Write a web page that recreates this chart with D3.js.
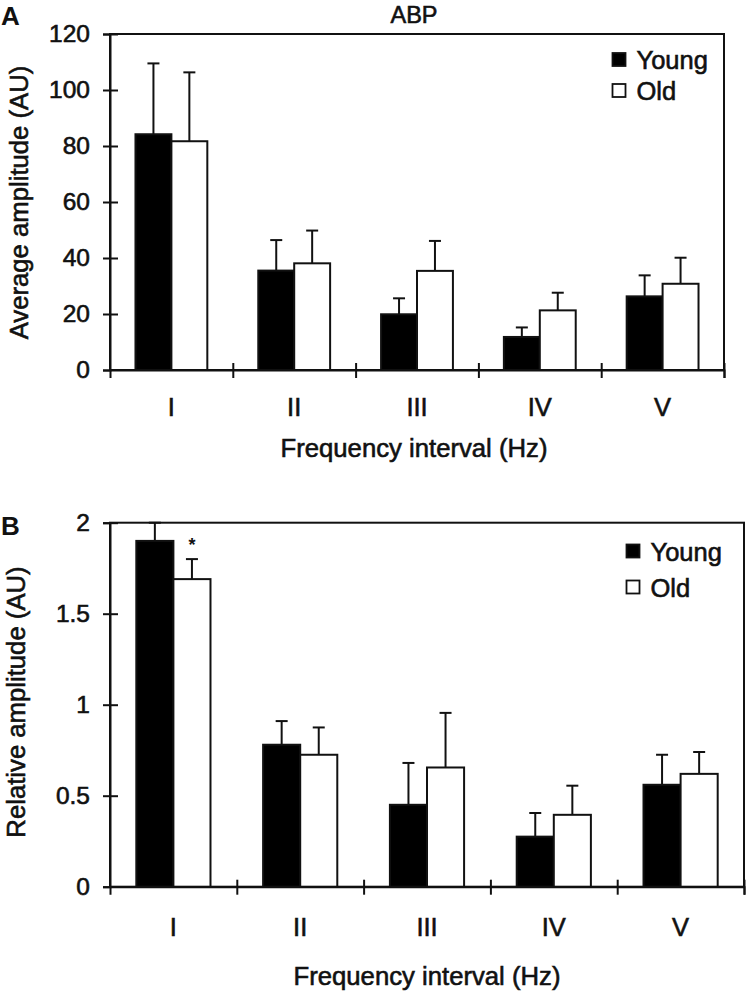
<!DOCTYPE html>
<html>
<head>
<meta charset="utf-8">
<script src="https://cdn.jsdelivr.net/npm/d3@7"></script>
<style>
  html, body { margin: 0; padding: 0; background: #fff; }
  svg { display: block; }
  text { font-family: "Liberation Sans", Arial, Helvetica, sans-serif; fill: #111; }
  text.heavy { stroke: #111; stroke-width: 0.6px; }
</style>
</head>
<body>
<svg id="chart" width="746" height="992"></svg>
<script>
// ---------- data ----------
const categories = ["I", "II", "III", "IV", "V"];
const seriesNames = ["Young", "Old"];
const seriesFill = ["#000000", "#ffffff"];

// Panel A: ABP average amplitude (AU), mean and upper SD
const abpYoung    = [84.2, 35.5, 19.9, 11.8, 26.3];
const abpYoungErr = [25.3, 10.9, 5.7, 3.4, 7.5];
const abpOld      = [81.7, 38.1, 35.4, 21.3, 30.8];
const abpOldErr   = [24.6, 11.7, 10.7, 6.3, 9.3];
const abpTicks    = [0, 20, 40, 60, 80, 100, 120];

// Panel B: relative amplitude (AU)
const relYoung    = [1.90, 0.78, 0.45, 0.275, 0.56];
const relYoungErr = [0.10, 0.13, 0.23, 0.13, 0.165];
const relOld      = [1.69, 0.725, 0.655, 0.395, 0.62];
const relOldErr   = [0.11, 0.15, 0.30, 0.16, 0.12];
const relTicks    = [0, 0.5, 1, 1.5, 2];
const relOldSig   = ["*", "", "", "", ""];

const svg = d3.select("#chart");
const FF = '"Liberation Sans", Arial, sans-serif';

function drawPanel(cfg) {
  const g = svg.append("g");
  const x0 = d3.scaleBand().domain(categories).range([cfg.left, cfg.right])
    .paddingInner(0.415).paddingOuter(0.2075);
  const x1 = d3.scaleBand().domain(seriesNames).range([0, x0.bandwidth()]);
  const y = d3.scaleLinear().domain([0, cfg.yMax]).range([cfg.bottom, cfg.top]);
  const idx = d3.scaleLinear().domain([0, categories.length]).range([cfg.left, cfg.right]);

  // frame (top & right)
  g.append("rect")
    .attr("x", cfg.left).attr("y", cfg.top)
    .attr("width", cfg.right - cfg.left).attr("height", cfg.bottom - cfg.top)
    .attr("fill", "none").attr("stroke", "#111").attr("stroke-width", 2);

  // bars
  const series = [
    { name: seriesNames[0], vals: cfg.young, errs: cfg.youngErr, fill: seriesFill[0] },
    { name: seriesNames[1], vals: cfg.old, errs: cfg.oldErr, fill: seriesFill[1] }
  ];
  series.forEach(s => {
    const rows = categories.map((c, i) => ({ c, v: s.vals[i], e: s.errs[i] }));
    const cx = d => x0(d.c) + x1(s.name) + x1.bandwidth() / 2;
    const sg = g.append("g");
    sg.selectAll("line.stem").data(rows).join("line").attr("class", "stem")
      .attr("x1", cx).attr("x2", cx)
      .attr("y1", d => y(d.v)).attr("y2", d => y(d.v + d.e))
      .attr("stroke", "#111").attr("stroke-width", 2);
    sg.selectAll("line.cap").data(rows).join("line").attr("class", "cap")
      .attr("x1", d => cx(d) - 6).attr("x2", d => cx(d) + 6)
      .attr("y1", d => y(d.v + d.e)).attr("y2", d => y(d.v + d.e))
      .attr("stroke", "#111").attr("stroke-width", 2);
    sg.selectAll("rect").data(rows).join("rect")
      .attr("x", d => x0(d.c) + x1(s.name))
      .attr("y", d => y(d.v))
      .attr("width", x1.bandwidth())
      .attr("height", d => y(0) - y(d.v))
      .attr("fill", s.fill).attr("stroke", "#111").attr("stroke-width", 2);
  });

  // significance marks
  if (cfg.oldSig) {
    g.selectAll("text.sig").data(categories.map((c, i) => ({ c, s: cfg.oldSig[i], v: cfg.old[i] + cfg.oldErr[i] })))
      .join("text").attr("class", "sig")
      .attr("x", d => x0(d.c) + x1("Old") + x1.bandwidth() / 2)
      .attr("y", d => y(d.v) - 8)
      .attr("text-anchor", "middle").attr("font-size", 18).attr("font-weight", "bold")
      .text(d => d.s);
  }

  // y axis with cross ticks
  const yAxis = g.append("g").attr("transform", `translate(${cfg.left},0)`)
    .call(d3.axisLeft(y).tickValues(cfg.ticks).tickSize(7).tickPadding(13)
      .tickFormat(d => String(d)));
  yAxis.select(".domain").attr("stroke", "#111").attr("stroke-width", 2);
  yAxis.selectAll(".tick line").attr("x1", d => d === 0 ? 0 : 8).attr("x2", -7)
    .attr("stroke", "#111").attr("stroke-width", 2);
  yAxis.selectAll(".tick text").attr("class", "heavy").attr("font-size", 24.5).attr("fill", "#111")
    .style("font-family", FF);

  // x axis: boundary ticks
  const xb = g.append("g").attr("transform", `translate(0,${cfg.bottom})`)
    .call(d3.axisBottom(idx).tickValues(d3.range(1, categories.length + 1)).tickSize(8).tickFormat(""));
  xb.select(".domain").attr("stroke", "#111").attr("stroke-width", 2);
  xb.selectAll(".tick line").attr("y1", -7).attr("stroke", "#111").attr("stroke-width", 2);

  // x axis: category labels
  const xl = g.append("g").attr("transform", `translate(0,${cfg.bottom})`)
    .call(d3.axisBottom(x0).tickSize(0).tickPadding(cfg.catPad));
  xl.select(".domain").remove();
  xl.selectAll(".tick text").attr("class", "heavy").attr("font-size", 25.5).attr("fill", "#111")
    .style("font-family", FF);

  // axis titles
  g.append("text").attr("class", "heavy")
    .attr("x", cfg.xTitleX).attr("y", cfg.xTitleY)
    .attr("text-anchor", "middle").attr("font-size", 25.7)
    .text("Frequency interval (Hz)");
  g.append("text").attr("class", "heavy")
    .attr("transform", `translate(${cfg.yTitleX},${cfg.yTitleY}) rotate(-90)`)
    .attr("text-anchor", "middle").attr("font-size", 25.7)
    .text(cfg.yTitle);

  // panel letter
  g.append("text").attr("x", 1).attr("y", cfg.letterY)
    .attr("font-size", 26).attr("font-weight", "bold").text(cfg.letter);

  // legend
  const lg = g.append("g");
  seriesNames.forEach((n, i) => {
    lg.append("rect")
      .attr("x", cfg.legX).attr("y", cfg.legY + i * cfg.legStep)
      .attr("width", 13).attr("height", 13)
      .attr("fill", seriesFill[i]).attr("stroke", "#111").attr("stroke-width", 1.8);
    lg.append("text").attr("class", "heavy")
      .attr("x", cfg.legX + 24).attr("y", cfg.legY + i * cfg.legStep + 16)
      .attr("font-size", 25.5).text(n);
  });
}

drawPanel({
  left: 110, right: 724, top: 34, bottom: 370, yMax: 120, ticks: abpTicks,
  young: abpYoung, youngErr: abpYoungErr, old: abpOld, oldErr: abpOldErr,
  catPad: 28, xTitleX: 414, xTitleY: 457, yTitleX: 28, yTitleY: 202.5, yTitle: "Average amplitude (AU)",
  letter: "A", letterY: 25, legX: 612.5, legY: 53, legStep: 31
});

drawPanel({
  left: 110, right: 744, top: 522.7, bottom: 886.7, yMax: 2, ticks: relTicks,
  young: relYoung, youngErr: relYoungErr, old: relOld, oldErr: relOldErr, oldSig: relOldSig,
  catPad: 31.5, xTitleX: 427, xTitleY: 985, yTitleX: 24.5, yTitleY: 702, yTitle: "Relative amplitude (AU)",
  letter: "B", letterY: 535, legX: 626.5, legY: 544.5, legStep: 36
});

// title
svg.append("text").attr("class", "heavy").attr("x", 414).attr("y", 23).attr("text-anchor", "middle")
  .attr("font-size", 23.5).text("ABP");
</script>
</body>
</html>
